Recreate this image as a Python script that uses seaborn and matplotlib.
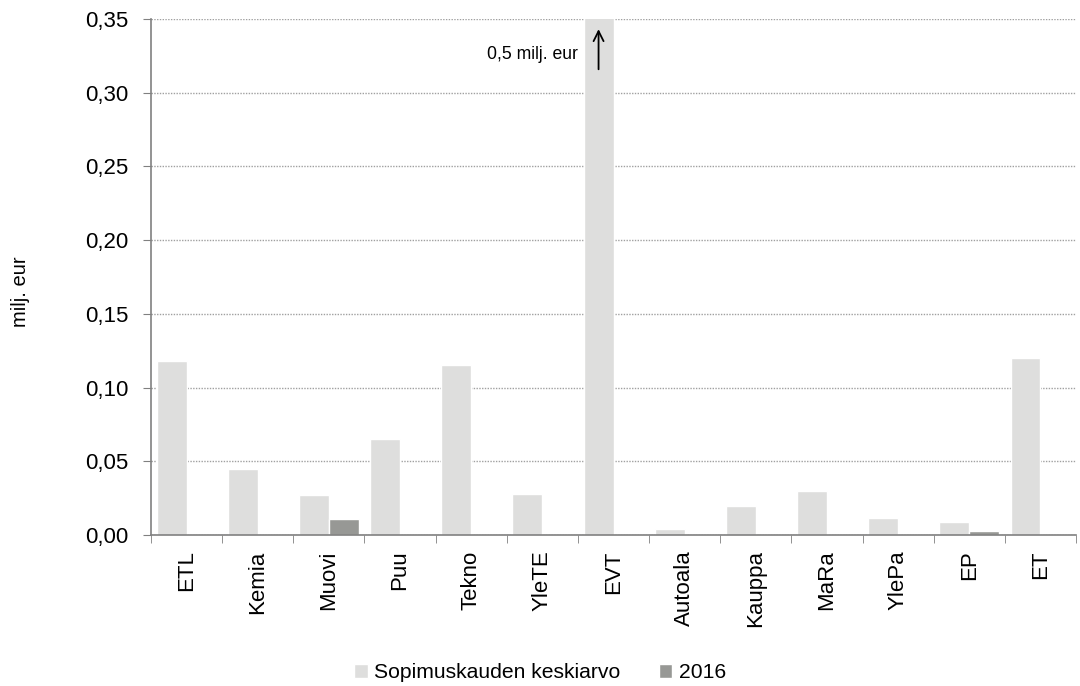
import matplotlib
matplotlib.use("Agg")
import matplotlib.pyplot as plt
from matplotlib.ticker import FixedLocator, FuncFormatter
import seaborn as sns
import numpy as np
import pandas as pd

# Values (milj. eur)
categories = ["ETL", "Kemia", "Muovi", "Puu", "Tekno", "YleTE", "EVT",
              "Autoala", "Kauppa", "MaRa", "YlePa", "EP", "ET"]
keskiarvo = [0.118, 0.045, 0.027, 0.065, 0.115, 0.028, 0.5,
             0.004, 0.0195, 0.030, 0.0115, 0.009, 0.120]
v2016 = [0.0, 0.0, 0.011, 0.0, 0.0, 0.0, 0.0,
         0.0, 0.0, 0.0, 0.0, 0.003, 0.0]
series_names = ["Sopimuskauden keskiarvo", "2016"]

df = pd.DataFrame({
    "ala": categories * 2,
    "arvo": keskiarvo + v2016,
    "sarja": [series_names[0]] * len(categories) + [series_names[1]] * len(categories),
})

sns.set_style("white")
plt.rcParams["font.family"] = ["Liberation Sans", "DejaVu Sans"]
plt.rcParams["text.color"] = "black"
plt.rcParams["xtick.labelcolor"] = "black"
plt.rcParams["ytick.labelcolor"] = "black"

fig = plt.figure(figsize=(10.8, 6.86), dpi=100)
ax = fig.add_axes([151 / 1080, 1 - 535 / 686, (1076 - 151) / 1080, (535 - 19) / 686])

sns.barplot(data=df, x="ala", y="arvo", hue="sarja", order=categories,
            hue_order=series_names, palette=["#dededd", "#979895"],
            width=0.84, gap=0, saturation=1, ax=ax, legend=True)

ax.set_ylim(0, 0.35)
ax.set_xlim(-0.5, len(categories) - 0.5)
ax.set_yticks(np.arange(0, 0.351, 0.05))
ax.yaxis.set_major_formatter(FuncFormatter(lambda v, p: f"{v:.2f}".replace(".", ",")))
ax.yaxis.grid(True, color="#a0a0a0", linestyle=(0, (1, 1)), linewidth=1)
ax.set_axisbelow(True)

# category labels in the middle, tick marks on the boundaries
ax.set_xticks(range(len(categories)))
ax.set_xticklabels(categories, rotation=90)
ax.xaxis.set_minor_locator(FixedLocator(np.arange(-0.5, len(categories), 1)))
ax.tick_params(axis="x", which="major", length=0, labelsize=16, pad=11)
ax.tick_params(axis="x", which="minor", length=6, color="#808080", direction="out", bottom=True)
ax.tick_params(axis="y", length=6, color="#808080", direction="out", labelsize=16, pad=10, left=True)

for side in ["top", "right"]:
    ax.spines[side].set_visible(False)
for side in ["left", "bottom"]:
    ax.spines[side].set_color("#808080")
    ax.spines[side].set_linewidth(1.2)

ax.set_xlabel("")
ax.set_ylabel("")
fig.text(20 / 1080, 1 - 292 / 686, "milj. eur", rotation=90, ha="center", va="center", fontsize=14.5)

# EVT bar goes past the axis
evt = categories.index("EVT")
ax.annotate("", xy=(evt - 0.21, 0.345), xytext=(evt - 0.21, 0.314),
            arrowprops=dict(arrowstyle="->", color="black", lw=1.3, mutation_scale=18))
ax.text(evt - 0.5, 0.3256, "0,5 milj. eur", ha="right", va="center", fontsize=12.7)

handles, labels = ax.get_legend_handles_labels()
ax.legend(handles, labels, loc="center", bbox_to_anchor=(0.5, 1 - 673 / 686),
          bbox_transform=fig.transFigure, ncol=2, frameon=False,
          fontsize=15.2, handlelength=0.65, handleheight=0.65, handletextpad=0.3,
          columnspacing=1.8)

fig.savefig("out.png", dpi=100)
